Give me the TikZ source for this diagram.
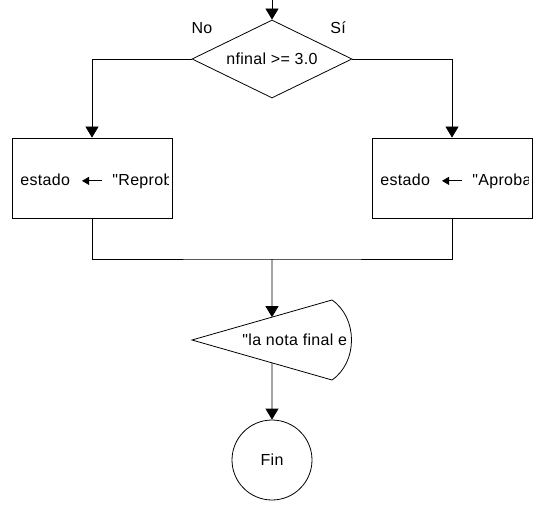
\documentclass[tikz,border=0pt]{standalone}
\usepackage{fontspec}
\setmainfont{Liberation Sans}[Ligatures=TeXOff, LetterSpace=2]
\usetikzlibrary{shapes.geometric,arrows.meta,calc}

\tikzset{
  flecha/.style={-{Triangle[length=11pt,width=13pt]}},
  flechita/.style={-{Triangle[length=7pt,width=8pt]}},
  proceso/.style={draw, rectangle, minimum width=160pt, minimum height=80pt, inner sep=0pt},
  decision/.style={draw, diamond, minimum width=160pt, minimum height=78pt, inner sep=0pt, shape aspect=2},
  terminal/.style={draw, circle, minimum size=80pt, inner sep=0pt},
  texto/.style={anchor=base west, inner sep=0pt},
  rotulo/.style={inner sep=0pt},
}

\begin{document}
\begin{tikzpicture}[x=1pt, y=-1pt, line width=0.8pt, font=\fontsize{16}{19}\selectfont]
  \useasboundingbox (0,0) rectangle (545,505);

  % Condicion
  \coordinate (inicio) at (272,0);
  \node[decision] (cond) at (272,59) {nfinal >= 3.0};
  \node[rotulo] (no) at (202,28) {No};
  \node[rotulo] (si) at (338,28) {Sí};
  \draw[flecha] (inicio) -- (cond.north);

  % Asignaciones
  \node[proceso] (reprob) at (92,178) {};
  \node[proceso] (aprob) at (452,178) {};
  \draw[flecha] (cond.west) -| (reprob.north);
  \draw[flecha] (cond.east) -| (aprob.north);

  \begin{scope}
    \clip (13,139) rectangle (168,217);
    \node[texto] (varA) at (20,185) {estado};
    \node[texto] (valA) at (112,185) {"Reprob};
    \draw[flechita] ([xshift=-10pt]valA.west) -- ++(-20pt,0);
  \end{scope}
  \begin{scope}
    \clip (373,139) rectangle (528,217);
    \node[texto] (varB) at (380,185) {estado};
    \node[texto] (valB) at (472,185) {"Aproba};
    \draw[flechita] ([xshift=-10pt]valB.west) -- ++(-20pt,0);
  \end{scope}

  % Union
  \coordinate (junta) at (272,259);
  \draw (reprob.south) |- (junta) -| (aprob.south);

  % Salida
  \coordinate (pico) at (192,340);
  \coordinate (supder) at (332,300);
  \coordinate (infder) at (332,380);
  \draw (pico) -- (supder) .. controls (358,318) and (358,362) .. (infder) -- cycle;
  \coordinate (entrada) at ($(pico)!80/140!(supder)$);
  \coordinate (salida) at ($(pico)!80/140!(infder)$);
  \draw[flecha] (junta) -- (entrada);
  \begin{scope}
    \clip (192,290) rectangle (346,390);
    \node[texto] (mensaje) at (242,345) {"la nota final e};
  \end{scope}

  % Fin
  \node[terminal] (fin) at (272,460) {Fin};
  \draw[flecha] (salida) -- (fin.north);
\end{tikzpicture}
\end{document}
